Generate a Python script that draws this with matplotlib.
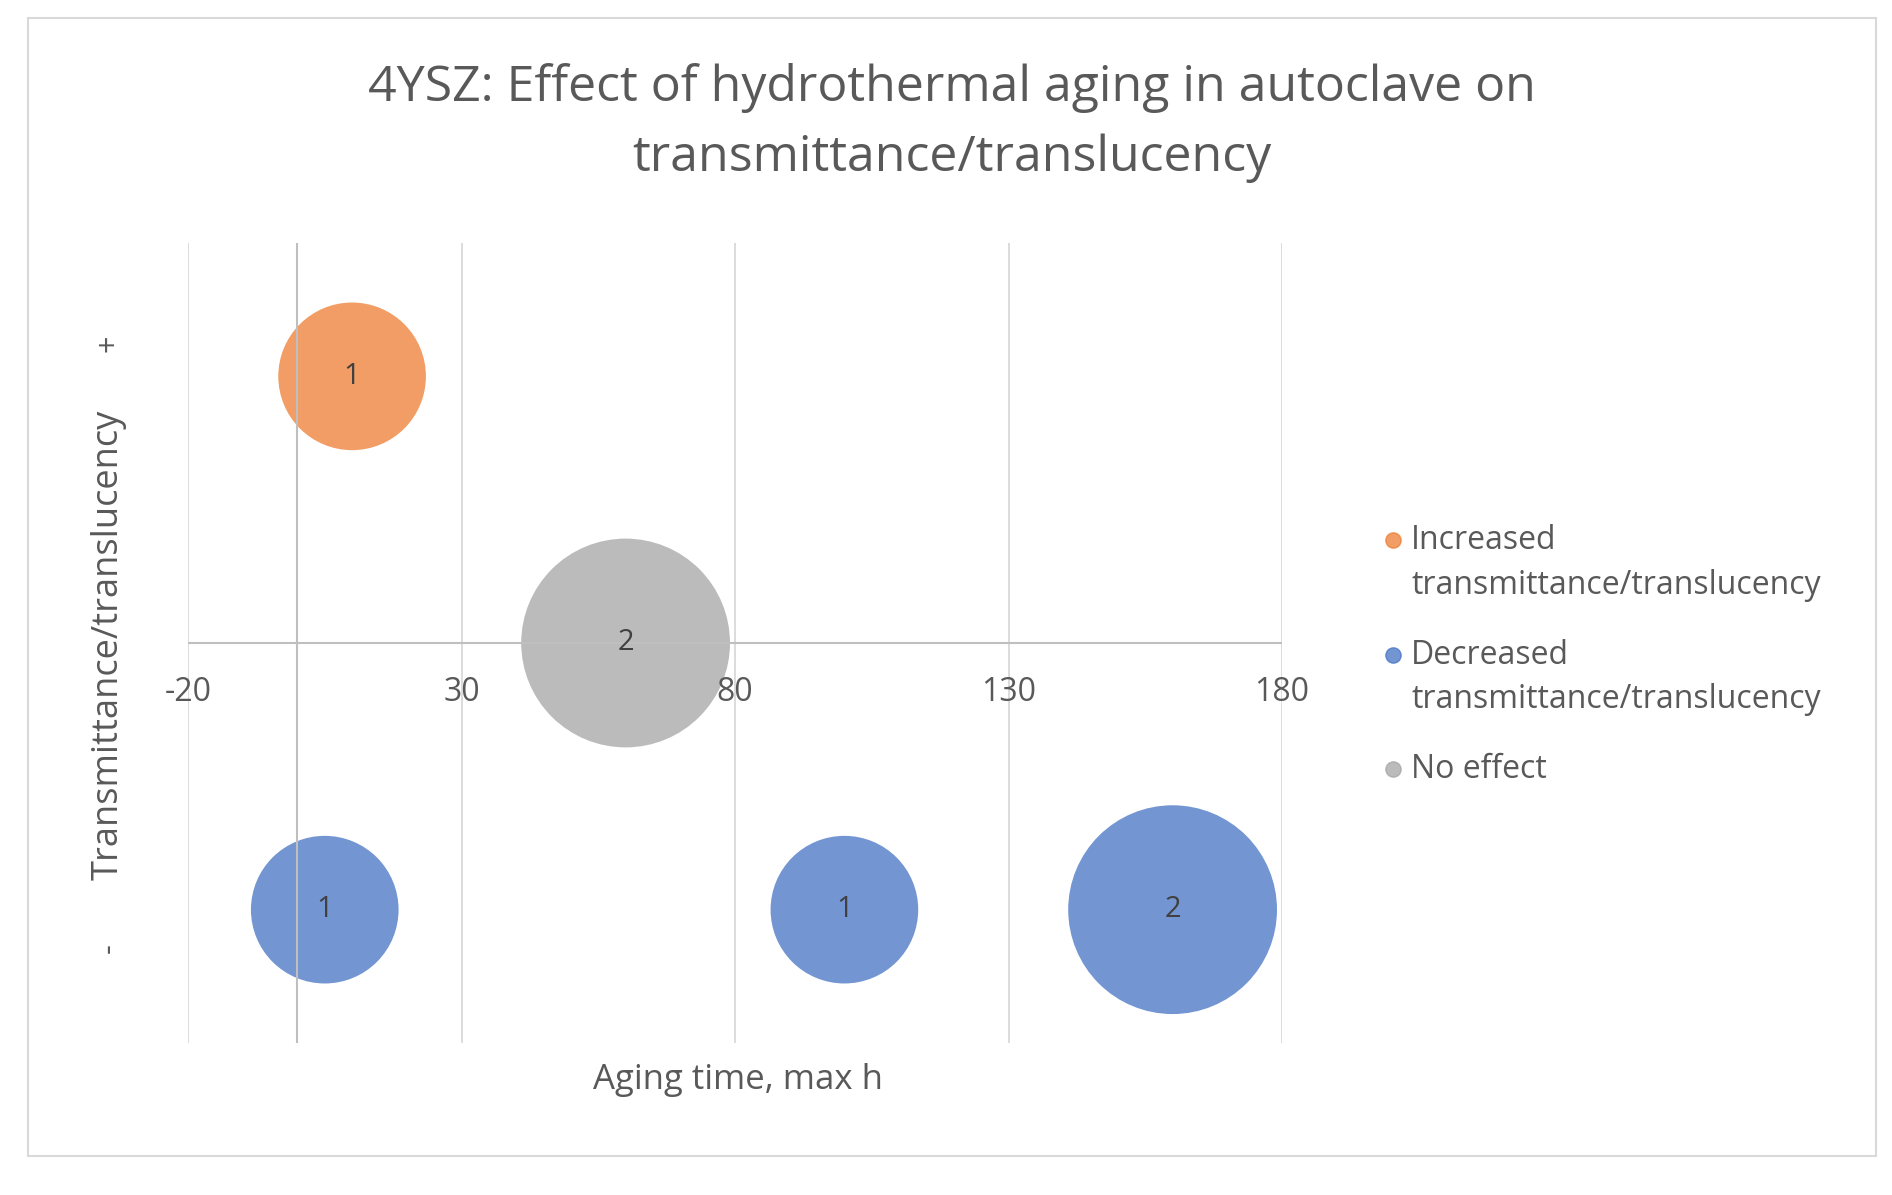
import matplotlib
matplotlib.use('Agg')
import matplotlib.pyplot as plt
from matplotlib.patches import Rectangle
from matplotlib.lines import Line2D

plt.rcParams['font.family'] = ['Open Sans', 'DejaVu Sans']

# data: aging time (h), effect (+1 / 0 / -1), number of studies
inc_x = [10]
inc_y = [1]
inc_n = [1]
dec_x = [5, 100, 160]
dec_y = [-1, -1, -1]
dec_n = [1, 1, 2]
none_x = [60]
none_y = [0]
none_n = [2]

xticks = [-20, 30, 80, 130, 180]
series_names = ['Increased\ntransmittance/translucency',
                'Decreased\ntransmittance/translucency',
                'No effect']
colors = ['#ED7D31', '#4472C4', '#A5A5A5']

txt = '#595959'
s_unit = 11300  # marker area for a bubble of size 1

W, H = 1892, 1195
fig = plt.figure(figsize=(W / 100, H / 100), dpi=100)
fig.patches.append(Rectangle((28/W, 1-1156/H), (1876-28)/W, (1156-18)/H,
                             transform=fig.transFigure, fill=False,
                             edgecolor='#D9D9D9', lw=1.5))

ax = fig.add_axes([188/W, 1-1043/H, 1094/W, 800/H])
ax.set_xlim(-20, 180)
ax.set_ylim(-1.5, 1.5)

ax.vlines(xticks, -1.5, 1.5, color='#D9D9D9', lw=1.3, zorder=1)
ax.axvline(0, color='#BFBFBF', lw=1.5, zorder=4)
ax.axhline(0, color='#BFBFBF', lw=1.5, zorder=4)

groups = [(inc_x, inc_y, inc_n), (dec_x, dec_y, dec_n), (none_x, none_y, none_n)]
for (xs, ys, ns), c in zip(groups, colors):
    ax.scatter(xs, ys, s=[n * s_unit for n in ns], color=c, alpha=0.75,
               edgecolors='none', zorder=3)
    for x, y, n in zip(xs, ys, ns):
        ax.text(x, y, str(n), ha='center', va='center', fontsize=21,
                color='#404040', zorder=5)

for sp in ax.spines.values():
    sp.set_visible(False)
ax.set_xticks([])
ax.set_yticks([])
for t in xticks:
    ax.text(t, -0.185, str(t), ha='center', va='center', fontsize=23, color=txt)

fig.text(738/W, 1-1080/H, 'Aging time, max h', ha='center', va='center',
         fontsize=25, color=txt)
fig.text(109/W, 1-645/H, 'Transmittance/translucency', ha='center', va='center',
         rotation=90, fontsize=26, color=txt)
fig.text(109/W, 1-343/H, '+', ha='center', va='center', rotation=90,
         fontsize=22, color=txt)
fig.text(109/W, 1-948/H, '-', ha='center', va='center', rotation=90,
         fontsize=22, color=txt)

fig.text(952/W, 1-88/H, '4YSZ: Effect of hydrothermal aging in autoclave on',
         ha='center', va='center', fontsize=36, color=txt)
fig.text(952/W, 1-158/H, 'transmittance/translucency',
         ha='center', va='center', fontsize=36, color=txt)

# legend, drawn by hand so the marker sits on the first line
leg_y = [540, 655, 769]
for name, c, y in zip(series_names, colors, leg_y):
    fig.add_artist(Line2D([1393/W], [1-y/H], marker='o', markersize=11,
                          color=c, alpha=0.75, lw=0, transform=fig.transFigure))
    for k, line in enumerate(name.split('\n')):
        fig.text(1411/W, 1-(y + 45*k)/H, line, ha='left', va='center',
                 fontsize=23, color=txt)

fig.savefig('out.png', dpi=100)
